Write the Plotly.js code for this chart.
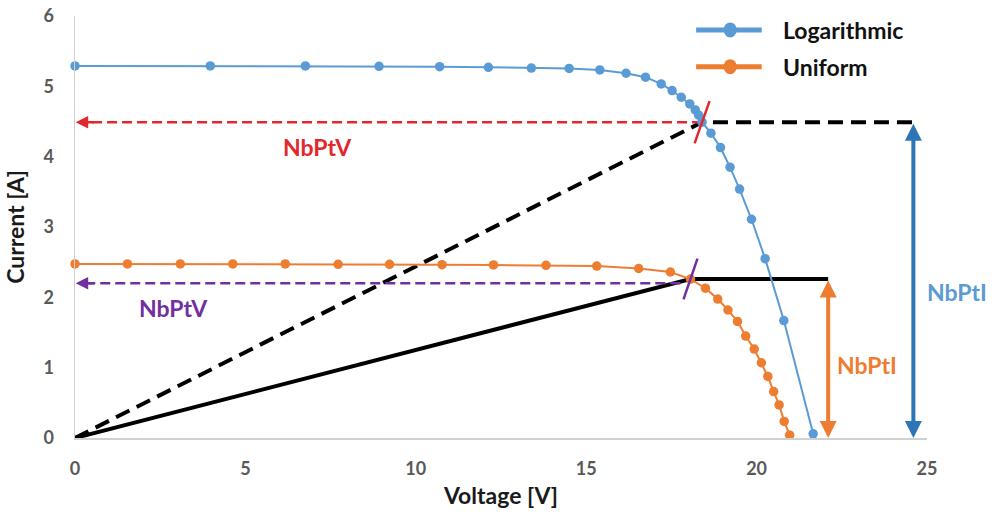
<!DOCTYPE html>
<html>
<head>
<meta charset="utf-8">
<script src="https://cdn.plot.ly/plotly-3.0.1.min.js"></script>
<style>html,body{margin:0;padding:0;background:#fff;}#chart{width:996px;height:515px;}</style>
</head>
<body>
<div id="chart"></div>
<script>
// ---- data ----
const logV = [0, 3.97, 6.76, 8.92, 10.70, 12.13, 13.39, 14.50, 15.40, 16.17, 16.74, 17.20, 17.52, 17.79, 18.04, 18.20, 18.30, 18.40, 18.66, 18.94, 19.22, 19.50, 19.85, 20.25, 20.80, 21.66];
const logI = [5.29, 5.29, 5.29, 5.285, 5.28, 5.27, 5.26, 5.255, 5.233, 5.186, 5.13, 5.034, 4.94, 4.845, 4.75, 4.665, 4.59, 4.49, 4.334, 4.13, 3.85, 3.54, 3.11, 2.55, 1.67, 0.06];
const uniV = [0, 1.54, 3.09, 4.63, 6.17, 7.72, 9.23, 10.77, 12.28, 13.82, 15.31, 16.54, 17.47, 18.06, 18.50, 18.86, 19.16, 19.44, 19.68, 19.93, 20.14, 20.33, 20.50, 20.66, 20.81, 20.97];
const uniI = [2.475, 2.475, 2.475, 2.475, 2.475, 2.47, 2.47, 2.465, 2.46, 2.455, 2.445, 2.41, 2.36, 2.26, 2.13, 1.975, 1.82, 1.657, 1.45, 1.265, 1.07, 0.875, 0.66, 0.47, 0.236, 0.04];
const seriesNames = ["Logarithmic", "Uniform"];
const mppV = [18.40, 18.06];      // max power point voltage (log, uniform)
const mppI = [4.49, 2.26];        // max power point current
const nbPtIV = [24.6, 22.1];      // voltage where the NbPtI arrows stand
const nbPtVI = [4.49, 2.20];      // current level of the NbPtV arrows
const xTicks = [0, 5, 10, 15, 20, 25];
const yTicks = [0, 1, 2, 3, 4, 5, 6];

const BLUE = '#5b9bd5', ORANGE = '#ed7d31', DBLUE = '#2e75b6', RED = '#e0282e', PURPLE = '#7030a0';
const FONT = 'Lato, "Open Sans", sans-serif';

const traces = [
  // black lines (dashed for log, solid for uniform)
  {x: [0, mppV[0], nbPtIV[0]], y: [0, mppI[0], mppI[0]], mode: 'lines',
   line: {color: '#000', width: 4, dash: '15px,8px'}, showlegend: false, hoverinfo: 'skip'},
  {x: [0, mppV[1], nbPtIV[1]], y: [0, mppI[1], mppI[1]], mode: 'lines',
   line: {color: '#000', width: 4}, showlegend: false, hoverinfo: 'skip'},
  // NbPtV dashed lines
  {x: [mppV[0], 0.25], y: [nbPtVI[0], nbPtVI[0]], mode: 'lines',
   line: {color: RED, width: 2.5, dash: '10px,5px'}, showlegend: false, hoverinfo: 'skip'},
  {x: [mppV[1] - 0.3, 0.25], y: [nbPtVI[1], nbPtVI[1]], mode: 'lines',
   line: {color: PURPLE, width: 2.5, dash: '10px,5px'}, showlegend: false, hoverinfo: 'skip'},
  // series
  {x: logV, y: logI, name: seriesNames[0], mode: 'lines+markers', cliponaxis: false,
   line: {color: BLUE, width: 2}, marker: {color: BLUE, size: 9.5}, showlegend: false},
  {x: uniV, y: uniI, name: seriesNames[1], mode: 'lines+markers', cliponaxis: false,
   line: {color: ORANGE, width: 2}, marker: {color: ORANGE, size: 9.5}, showlegend: false}
];

// legend geometry (paper coords)
const legX0 = 0.729, legX1 = 0.806, legXm = 0.769, legTx = 0.8286, legY = [0.967, 0.880];

const shapes = [
  {type: 'line', xref: 'x', yref: 'y', x0: mppV[0] - 0.22, x1: mppV[0] + 0.22, y0: mppI[0] - 0.30, y1: mppI[0] + 0.30,
   line: {color: RED, width: 2.5}, layer: 'above'},
  {type: 'line', xref: 'x', yref: 'y', x0: mppV[1] - 0.205, x1: mppV[1] + 0.205, y0: mppI[1] - 0.29, y1: mppI[1] + 0.29,
   line: {color: PURPLE, width: 2.5}, layer: 'above'}
];
[BLUE, ORANGE].forEach((c, i) => {
  shapes.push({type: 'line', xref: 'paper', yref: 'paper', x0: legX0, x1: legX1, y0: legY[i], y1: legY[i],
    line: {color: c, width: 5}});
  shapes.push({type: 'circle', xref: 'paper', yref: 'paper', xsizemode: 'pixel', ysizemode: 'pixel',
    xanchor: legXm, yanchor: legY[i], x0: -6.5, x1: 6.5, y0: -7.5, y1: 7.5,
    fillcolor: c, line: {color: c, width: 0}});
});

const txt = (t, x, y, color, xref, yref, anchor) => ({
  text: t, x: x, y: y, xref: xref || 'x', yref: yref || 'y', showarrow: false,
  xanchor: anchor || 'center', yanchor: 'middle',
  font: {family: FONT, size: 23, color: color, weight: 'bold'}
});

const annotations = [
  txt('NbPtV', 7.12, 4.14, RED),
  txt('NbPtV', 2.90, 1.85, PURPLE),
  txt('NbPtI', 23.25, 1.04, ORANGE),
  txt('NbPtI', 1.035, 0.346, BLUE, 'paper', 'paper'),
  txt(seriesNames[0], legTx, legY[0], '#111', 'paper', 'paper', 'left'),
  txt(seriesNames[1], legTx, legY[1], '#111', 'paper', 'paper', 'left'),
  // arrow heads of the NbPtV lines
  {x: 0.02, y: nbPtVI[0], ax: 0.6, ay: nbPtVI[0], xref: 'x', yref: 'y', axref: 'x', ayref: 'y', text: '',
   showarrow: true, arrowhead: 2, arrowsize: 1.0, arrowwidth: 2.5, arrowcolor: RED},
  {x: 0.02, y: nbPtVI[1], ax: 0.6, ay: nbPtVI[1], xref: 'x', yref: 'y', axref: 'x', ayref: 'y', text: '',
   showarrow: true, arrowhead: 2, arrowsize: 1.0, arrowwidth: 2.5, arrowcolor: PURPLE},
  // NbPtI double arrows
  {x: nbPtIV[0], y: 0, ax: nbPtIV[0], ay: mppI[0], xref: 'x', yref: 'y', axref: 'x', ayref: 'y', text: '',
   showarrow: true, arrowhead: 2, startarrowhead: 2, arrowside: 'end+start', arrowsize: 0.85, startarrowsize: 0.85,
   arrowwidth: 4, arrowcolor: DBLUE},
  {x: nbPtIV[1], y: 0, ax: nbPtIV[1], ay: mppI[1], xref: 'x', yref: 'y', axref: 'x', ayref: 'y', text: '',
   showarrow: true, arrowhead: 2, startarrowhead: 2, arrowside: 'end+start', arrowsize: 0.85, startarrowsize: 0.85,
   arrowwidth: 4, arrowcolor: ORANGE}
];

const axisCommon = {
  showgrid: false, zeroline: false, showline: true, linecolor: '#d0d0d0', linewidth: 1.5,
  ticks: 'outside', tickcolor: 'rgba(0,0,0,0)',
  tickfont: {family: FONT, size: 18, color: '#595959', weight: 'bold'}
};

const layout = {
  width: 996, height: 515,
  margin: {l: 75, r: 69, t: 16, b: 77},
  paper_bgcolor: '#fff', plot_bgcolor: '#fff',
  showlegend: false,
  xaxis: Object.assign({}, axisCommon, {
    range: [0, 25], tickvals: xTicks, ticktext: xTicks.map(String), ticklen: 14,
    title: {text: 'Voltage [V]', standoff: 10, font: {family: FONT, size: 23, color: '#1a1a1a', weight: 'bold'}}
  }),
  yaxis: Object.assign({}, axisCommon, {
    range: [0, 6], tickvals: yTicks, ticktext: yTicks.map(String), ticklen: 16,
    title: {text: 'Current [A]', standoff: 12, font: {family: FONT, size: 23, color: '#1a1a1a', weight: 'bold'}}
  }),
  shapes: shapes,
  annotations: annotations
};

Plotly.newPlot('chart', traces, layout, {displayModeBar: false, staticPlot: true});
</script>
</body>
</html>
